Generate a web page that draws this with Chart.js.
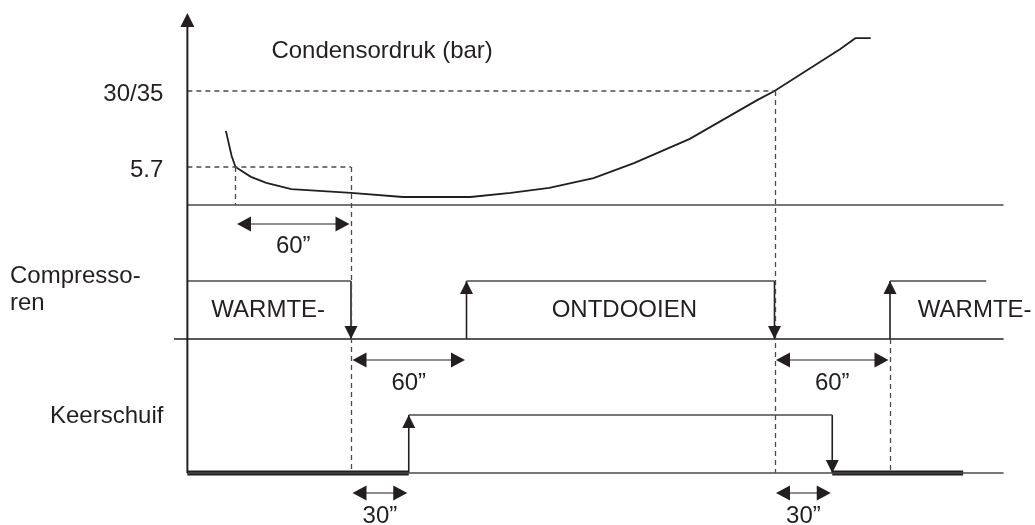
<!DOCTYPE html>
<html>
<head>
<meta charset="utf-8">
<title>Ontdooicyclus</title>
<script src="https://cdn.jsdelivr.net/npm/chart.js@4/dist/chart.umd.min.js"></script>
<style>
  html, body { margin: 0; padding: 0; background: #ffffff; }
  canvas { display: block; }
</style>
</head>
<body>
<canvas id="cycle" width="1035" height="525"></canvas>
<script>
// Time in seconds, counted from the moment the compressors stop for defrost.
const timeStart = -85;            // vertical axis
const timeEnd = 339;              // end of the lane baselines
const compressorLineStart = -92;  // compressor baseline reaches past the axis

// Condenser pressure, schematic units: 1 = "5.7" mark, 3 = "30/35" mark
const pressureTime  = [-65, -62, -60, -52, -44, -31, 0, 27, 62, 83, 103, 126, 147, 176, 211, 220, 254, 262, 270];
const pressureValue = [1.95, 1.29, 1.0, 0.74, 0.58, 0.42, 0.32, 0.21, 0.21, 0.32, 0.45, 0.71, 1.1, 1.74, 2.76, 3.0, 4.1, 4.39, 4.39];
const pressureMarks = [1, 3];
const pressureMarkLabels = ['5.7', '30/35'];
const pressureMarkTime = [-60, 220];   // when the curve reaches each mark
const pressureMarkGuideEnd = [0, 220]; // dashed level runs to the switching edge
const pressureAxisTop = 5.05;

// Compressors: 1 = running, 0 = stopped
const compressorSwitch = [0, 60, 220, 280];
const compressorState = [1, 0, 1, 0, 1];
const compressorEnd = 330;
const compressorPhases = ['WARMTE-', 'ONTDOOIEN', 'WARMTE-'];

// Four-way valve (Keerschuif): 1 = defrost position
const valveSwitch = [30, 250];
const valveState = [0, 1, 0];
const valveEnd = 318;

// Delays marked under the switching edges
const delayFrom  = [-60, 0, 220, 0, 220];
const delayTo    = [0, 60, 280, 30, 250];
const delayLane  = ['pressure', 'compressor', 'compressor', 'valve', 'valve'];
const delayLabel = ['60\u201D', '60\u201D', '60\u201D', '30\u201D', '30\u201D'];

// ---- layout ----
const W = 1035, H = 525;
const originPx = 351, pxPerSecond = 1.925;
const lanes = {
  pressure:   { axis: 'yP', basePx: 205, unitPx: 38, arrowGap: 19, labelGap: 48 },
  compressor: { axis: 'yC', basePx: 339, unitPx: 58, arrowGap: 21, labelGap: 51 },
  valve:      { axis: 'yK', basePx: 473, unitPx: 58, arrowGap: 20, labelGap: 50 }
};
const phaseLabelTime = [-43, 142, 324];
const INK = '#231f20';
const GREY = '#4a4a4a';
const FONT = '24px "Liberation Sans", Arial, Helvetica, sans-serif';

function laneScale(l) {
  return {
    type: 'linear', display: false,
    min: -(H - l.basePx) / l.unitPx,
    max: l.basePx / l.unitPx
  };
}

function intervals(switches, states, start, end) {
  const edges = [start, ...switches, end];
  return states.map((s, i) => ({ from: edges[i], to: edges[i + 1], state: s }));
}
function transitions(switches, states) {
  return switches.map((t, i) => ({ t, from: states[i], to: states[i + 1] }));
}

function line(axis, points, style) {
  return Object.assign({
    yAxisID: axis,
    data: points,
    showLine: true,
    pointRadius: 0,
    pointHoverRadius: 0,
    borderColor: INK,
    borderWidth: 1.5,
    fill: false,
    tension: 0
  }, style);
}

const compIntervals = intervals(compressorSwitch, compressorState, timeStart, compressorEnd);
const valveIntervals = intervals(valveSwitch, valveState, timeStart, valveEnd);
const compEdges = transitions(compressorSwitch, compressorState);
const valveEdges = transitions(valveSwitch, valveState);

const datasets = [];
// lane baselines
datasets.push(line('yP', [{ x: timeStart, y: 0 }, { x: timeEnd, y: 0 }], { borderColor: GREY, borderWidth: 1.3 }));
datasets.push(line('yC', [{ x: compressorLineStart, y: 0 }, { x: timeEnd, y: 0 }], { borderWidth: 1.5 }));
datasets.push(line('yK', [{ x: timeStart, y: 0 }, { x: timeEnd, y: 0 }], { borderColor: GREY, borderWidth: 1.3 }));

// dashed pressure levels
pressureMarks.forEach((m, i) => {
  datasets.push(line('yP', [{ x: timeStart, y: m }, { x: pressureMarkGuideEnd[i], y: m }],
    { borderColor: GREY, borderWidth: 1.3, borderDash: [5, 4] }));
});

// condenser pressure curve
datasets.push(line('yP', pressureTime.map((t, i) => ({ x: t, y: pressureValue[i] })), { borderWidth: 1.8 }));

// compressor running periods and switching edges
compIntervals.filter(iv => iv.state === 1).forEach(iv => {
  datasets.push(line('yC', [{ x: iv.from, y: 1 }, { x: iv.to, y: 1 }], { borderColor: GREY, borderWidth: 1.3 }));
});
compEdges.forEach(e => {
  datasets.push(line('yC', [{ x: e.t, y: e.from }, { x: e.t, y: e.to }], { borderWidth: 1.6 }));
});

// valve positions: thick when in heating position
valveIntervals.forEach(iv => {
  if (iv.state === 1) {
    datasets.push(line('yK', [{ x: iv.from, y: 1 }, { x: iv.to, y: 1 }], { borderColor: GREY, borderWidth: 1.3 }));
  } else {
    datasets.push(line('yK', [{ x: iv.from, y: 0 }, { x: iv.to, y: 0 }], { borderWidth: 5, borderCapStyle: 'butt' }));
  }
});
valveEdges.forEach(e => {
  datasets.push(line('yK', [{ x: e.t, y: e.from }, { x: e.t, y: e.to }], { borderWidth: 1.6 }));
});

// guides, arrowheads and texts on top of the datasets
const diagramPlugin = {
  id: 'timingDiagram',
  afterDatasetsDraw(chart) {
    const ctx = chart.ctx;
    const xs = chart.scales.x;
    const ys = name => chart.scales[lanes[name].axis];
    const px = t => xs.getPixelForValue(t);
    const py = (lane, v) => ys(lane).getPixelForValue(v);

    function head(tx, ty, dx, dy, len, half) {
      const bx = tx - dx * len, by = ty - dy * len;
      ctx.beginPath();
      ctx.moveTo(tx, ty);
      ctx.lineTo(bx - dy * half, by + dx * half);
      ctx.lineTo(bx + dy * half, by - dx * half);
      ctx.closePath();
      ctx.fillStyle = INK;
      ctx.fill();
    }

    ctx.save();

    // dashed vertical guides
    const guides = [
      { t: pressureMarkTime[0], a: ['pressure', pressureMarks[0]], b: ['pressure', 0] },
      { t: compressorSwitch[0], a: ['pressure', pressureMarks[0]], b: ['valve', 0] },
      { t: compressorSwitch[2], a: ['pressure', pressureMarks[1]], b: ['valve', 0] },
      { t: compressorSwitch[3], a: ['compressor', 0], b: ['valve', 0] }
    ];
    ctx.strokeStyle = GREY;
    ctx.lineWidth = 1.3;
    ctx.setLineDash([5, 4]);
    guides.forEach(g => {
      const x = Math.round(px(g.t)) + 0.5;
      ctx.beginPath();
      ctx.moveTo(x, py(g.a[0], g.a[1]));
      ctx.lineTo(x, py(g.b[0], g.b[1]));
      ctx.stroke();
    });
    ctx.setLineDash([]);

    // vertical axis with arrow
    const ax = px(timeStart);
    const axTop = py('pressure', pressureAxisTop);
    ctx.strokeStyle = INK;
    ctx.lineWidth = 2;
    ctx.beginPath();
    ctx.moveTo(ax, py('valve', 0));
    ctx.lineTo(ax, axTop + 12);
    ctx.stroke();
    head(ax, axTop, 0, -1, 14, 7);

    // arrowheads on switching edges
    compEdges.forEach(e => {
      head(px(e.t), py('compressor', e.to), 0, e.to > e.from ? -1 : 1, 13, 6.5);
    });
    valveEdges.forEach(e => {
      head(px(e.t), py('valve', e.to), 0, e.to > e.from ? -1 : 1, 13, 6.5);
    });

    // delay dimensions
    ctx.font = FONT;
    ctx.fillStyle = INK;
    ctx.textAlign = 'center';
    ctx.textBaseline = 'alphabetic';
    delayFrom.forEach((t0, i) => {
      const lane = lanes[delayLane[i]];
      const base = py(delayLane[i], 0);
      const y = base + lane.arrowGap;
      const x0 = px(t0) + 1.5, x1 = px(delayTo[i]) - 1.5;
      ctx.strokeStyle = INK;
      ctx.lineWidth = 1.2;
      ctx.beginPath();
      ctx.moveTo(x0 + 10, y);
      ctx.lineTo(x1 - 10, y);
      ctx.stroke();
      head(x0, y, -1, 0, 14, 7.5);
      head(x1, y, 1, 0, 14, 7.5);
      ctx.fillStyle = INK;
      ctx.fillText(delayLabel[i], (x0 + x1) / 2, base + lane.labelGap);
    });

    // phase names in the compressor lane
    const phaseY = py('compressor', 0) - 22;
    compressorPhases.forEach((name, i) => {
      ctx.fillText(name, px(phaseLabelTime[i]), phaseY);
    });

    // pressure mark labels
    ctx.textAlign = 'right';
    pressureMarks.forEach((m, i) => {
      ctx.fillText(pressureMarkLabels[i], ax - 24, py('pressure', m) + 10);
    });

    // lane titles
    ctx.textAlign = 'left';
    ctx.fillText('Condensordruk (bar)', ax + 84, 58);
    ctx.fillText('Compresso-', 10, py('compressor', 1) + 2);
    ctx.fillText('ren', 10, py('compressor', 1) + 29);
    ctx.fillText('Keerschuif', 50, py('valve', 1) + 8);

    ctx.restore();
  }
};

new Chart(document.getElementById('cycle'), {
  type: 'scatter',
  data: { datasets },
  options: {
    responsive: false,
    animation: false,
    events: [],
    layout: { padding: 0 },
    plugins: { legend: { display: false }, tooltip: { enabled: false } },
    scales: {
      x: { type: 'linear', display: false, min: -originPx / pxPerSecond, max: (W - originPx) / pxPerSecond },
      yP: laneScale(lanes.pressure),
      yC: laneScale(lanes.compressor),
      yK: laneScale(lanes.valve)
    }
  },
  plugins: [diagramPlugin]
});
</script>
</body>
</html>
